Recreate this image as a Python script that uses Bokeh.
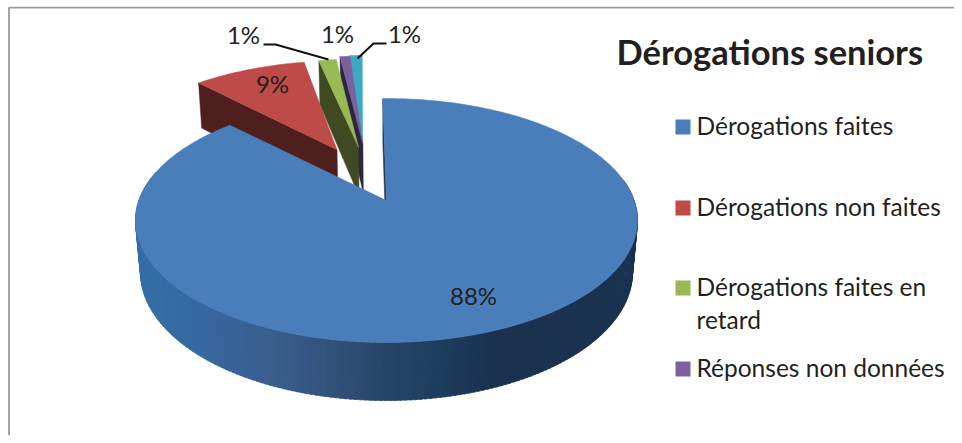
import numpy as np
from bokeh.plotting import figure
from bokeh.models import Range1d
from bokeh.core.properties import value
from bokeh.embed import file_html
from bokeh.resources import INLINE

# ---- data ----
title = "Dérogations seniors"
slice_values = [87.8, 9.0, 1.4, 0.8, 1.0]
slice_labels = ["88%", "9%", "1%", "1%", "1%"]
legend_labels = [["Dérogations faites"], ["Dérogations non faites"],
                 ["Dérogations faites en", "retard"], ["Réponses non données"]]

# ---- style ----
top_colors = ["#4A7EBB", "#BE4B48", "#98B954", "#7D60A0", "#3DA9C4"]
cut_colors = ["#1E3A5A", "#4F1F1E", "#3F4A22", "#2E2440", "#1C5563"]
explode = [(0, 0), (-0.215, 0.46), (-0.122, 0.484), (-0.104, 0.521), (-0.105, 0.53)]
turn = [0, 1.2, 0, 0, 0]
start_deg = -1.0
FONT = "Lato"
INK = "#231F20"
W, HT = 954, 435

# projection of a tilted disc, with perspective
CX, CY, A, B, H, P, Q = 386.0, 200.0, 247.6, 118.7, 52.5, 0.164, 0.02


def proj(u, v, z):
    w = 1 + P * v + Q * z
    return CX + A * u / w, CY + (-B * v + H * z) / w


def arc(a0, a1, off, z, n=None):
    n = n or max(2, int(abs(a1 - a0)) + 2)
    t = np.radians(np.linspace(a0, a1, n))
    return proj(np.sin(t) + off[0], np.cos(t) + off[1], z)


p = figure(width=W, height=HT, output_backend="svg", toolbar_location=None,
           x_range=Range1d(0, W), y_range=Range1d(HT, 0),
           x_axis_type=None, y_axis_type=None, min_border=0,
           background_fill_color="white", border_fill_color="white",
           outline_line_color=None)
p.grid.visible = False

# chart frame
p.line([W, 8.5, 8.5], [7.2, 7.2, HT], line_color="#9A9A9A", line_width=1.8)

fractions = np.array(slice_values) / sum(slice_values) * 360
edges = start_deg + np.concatenate([[0], np.cumsum(fractions)])


def cut_wall(a, off, color):
    t = np.radians(a)
    ox, oy = proj(off[0], off[1], 0)
    bx, by = proj(off[0], off[1], 1)
    ex, ey = proj(np.sin(t) + off[0], np.cos(t) + off[1], 0)
    fx, fy = proj(np.sin(t) + off[0], np.cos(t) + off[1], 1)
    p.patch([ox, ex, fx, bx], [oy, ey, fy, by], fill_color=color, line_color=color, line_width=0.5)


def top(i):
    off = explode[i]
    ax, ay = arc(edges[i] + turn[i], edges[i + 1] + turn[i], off, 0)
    ox, oy = proj(off[0], off[1], 0)
    p.patch([ox, *ax, ox], [oy, *ay, oy], fill_color=top_colors[i],
            line_color=top_colors[i], line_width=0.5)


# back slices first, nearest last
for i in [4, 3, 2, 1]:
    cut_wall(edges[i] + turn[i], explode[i], cut_colors[i])
    top(i)

# outer wall of the large slice, shaded across its width
stop_x = [135, 200, 270, 340, 390, 440, 490, 640]
stop_rgb = np.array([[0x35, 0x70, 0xA8], [0x36, 0x68, 0xA0], [0x3A, 0x5F, 0x8E], [0x32, 0x4F, 0x77],
                     [0x26, 0x44, 0x68], [0x1F, 0x3D, 0x5E], [0x1A, 0x32, 0x50], [0x1A, 0x32, 0x50]])
steps = np.arange(80, 285, 1.0)
for a0, a1 in zip(steps[:-1], steps[1:]):
    tx, ty = arc(a0, a1 + 0.4, (0, 0), 0, 2)
    bx, by = arc(a0, a1 + 0.4, (0, 0), 1, 2)
    mid = tx.mean()
    rgb = [int(np.interp(mid, stop_x, stop_rgb[:, c])) for c in range(3)]
    col = "#%02X%02X%02X" % tuple(rgb)
    p.patch([tx[0], tx[1], bx[1], bx[0]], [ty[0], ty[1], by[1], by[0]],
            fill_color=col, line_color=col, line_width=0.6)

cut_wall(edges[0], explode[0], cut_colors[0])
top(0)

# leader lines
p.line([263, 275, 328], [44, 44, 59], line_color="#111111", line_width=2)
p.line([357, 373, 386], [58, 43, 43], line_color="#111111", line_width=2)

# data labels
label_x = [473, 272, 243, 337, 404]
label_y = [295, 83, 34, 33, 33]
p.text(label_x, label_y, text=slice_labels, text_font=value(FONT), text_font_size="24px",
       text_color=INK, text_align="center", text_baseline="middle")

# title
p.text([616], [51], text=[title], text_font=value(FONT), text_font_size="34.5px", text_font_style="bold",
       text_color=INK, text_align="left", text_baseline="middle")

# legend
leg_y = [126.5, 207.5, 287.5, 368.5]
p.rect([682.5] * 4, leg_y, width=15, height=15, fill_color=top_colors[:4], line_color=None)
xs, ys, ts = [], [], []
for ly, lines in zip(leg_y, legend_labels):
    for k, line in enumerate(lines):
        xs.append(696)
        ys.append(ly - 2 + k * 33)
        ts.append(line)
p.text(xs, ys, text=ts, text_font=value(FONT), text_font_size="24.5px", text_color=INK,
       text_align="left", text_baseline="middle")

open("out.html", "w").write(file_html(p, INLINE))
